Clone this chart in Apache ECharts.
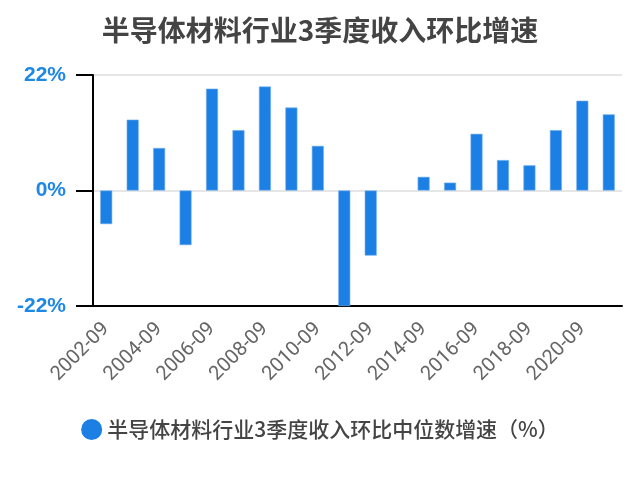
<!DOCTYPE html>
<html lang="zh">
<head>
    <meta charset="UTF-8">
    <title>半导体材料行业3季度收入环比增速</title>
    <script src="https://cdn.jsdelivr.net/npm/echarts@6/dist/echarts.min.js"></script>
    <style>
        html, body { margin: 0; padding: 0; background: #fff; }
        #main { width: 640px; height: 477px; }
    </style>
</head>
<body>
<div id="main"></div>
<script>
    // 数据
    var years = ["2002-09", "2003-09", "2004-09", "2005-09", "2006-09", "2007-09", "2008-09",
        "2009-09", "2010-09", "2011-09", "2012-09", "2013-09", "2014-09", "2015-09",
        "2016-09", "2017-09", "2018-09", "2019-09", "2020-09", "2021-09"];
    var growth = [-6.4, 13.5, 8.1, -10.4, 19.4, 11.5, 19.8, 15.8, 8.5, -22,
        -12.4, "-", 2.6, 1.5, 10.8, 5.8, 4.8, 11.5, 17.1, 14.5];
    var seriesName = "半导体材料行业3季度收入环比中位数增速（%）";

    var fontCN = "'Noto Sans CJK SC', 'Liberation Sans', sans-serif";
    var myChart = echarts.init(document.getElementById("main"));
    var option = {
        backgroundColor: "#fff",
        animation: false,
        title: {
            text: "半导体材料行业3季度收入环比增速",
            left: "center",
            top: 11,
            textStyle: {
                fontFamily: fontCN,
                fontSize: 28,
                fontWeight: "bold",
                color: "#444"
            }
        },
        legend: {
            data: [seriesName],
            bottom: 32,
            left: "center",
            icon: "circle",
            itemWidth: 21,
            itemHeight: 21,
            itemGap: 12,
            itemStyle: { borderWidth: 0 },
            textStyle: {
                fontFamily: fontCN,
                fontSize: 21,
                fontWeight: 500,
                color: "#444"
            }
        },
        grid: {
            left: 93,
            right: 18,
            top: 75,
            bottom: 171
        },
        xAxis: {
            type: "category",
            data: years,
            axisLine: { onZero: false, lineStyle: { color: "#000", width: 2 } },
            axisTick: { alignWithLabel: true, interval: 1, length: 16, lineStyle: { color: "#000", width: 2 } },
            axisLabel: {
                interval: 1,
                rotate: 45,
                fontSize: 20,
                fontFamily: "Roboto, sans-serif",
                color: "#666",
                margin: 20
            }
        },
        yAxis: {
            type: "value",
            min: -22,
            max: 22,
            interval: 22,
            axisLine: { show: true, lineStyle: { color: "#000", width: 2 } },
            axisTick: { show: true, length: 17, lineStyle: { color: "#000", width: 2 } },
            axisLabel: {
                formatter: "{value}%",
                fontSize: 21,
                fontWeight: "bold",
                fontFamily: "'Liberation Sans', sans-serif",
                color: "#1e88e5",
                margin: 27
            },
            splitLine: { lineStyle: { color: "#e6e6e6", width: 2 } }
        },
        series: [{
            name: seriesName,
            type: "bar",
            data: growth,
            barWidth: 12,
            itemStyle: {
                color: "#1b7fe4",
                borderColor: "#74b0f0",
                borderWidth: 0.6
            }
        }]
    };
    myChart.setOption(option);
</script>
</body>
</html>
